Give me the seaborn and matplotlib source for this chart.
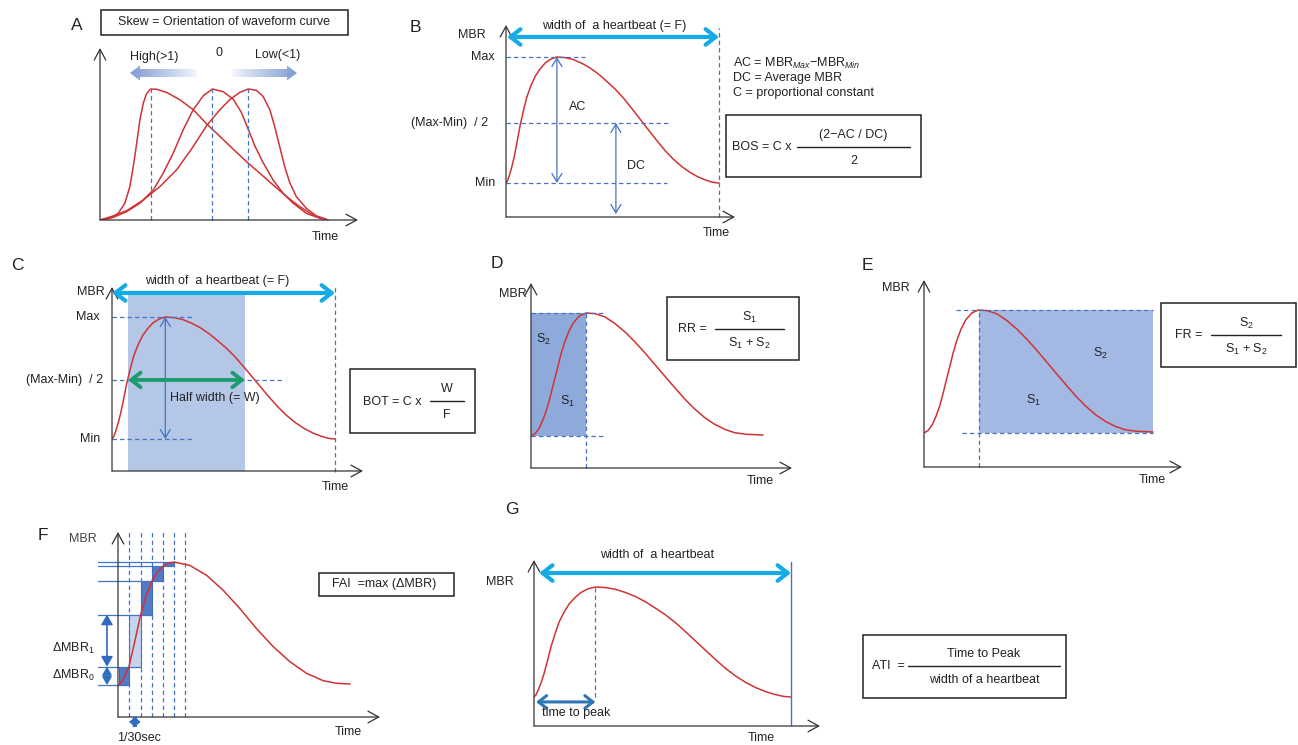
import numpy as np
import matplotlib
matplotlib.use("Agg")
import matplotlib.pyplot as plt
import seaborn as sns
from matplotlib.patches import Rectangle, Polygon
from matplotlib.colors import LinearSegmentedColormap

# ---------------------------------------------------------------------------
# data: waveforms, normalised
# time 0..1 = one heartbeat, MBR 0 = min, 1 = max
# ---------------------------------------------------------------------------
# panel A, three waveforms with different skew
skew_high_t = [0.0, 0.044, 0.080, 0.109, 0.131, 0.146, 0.161, 0.175, 0.190, 0.204,
               0.222, 0.248, 0.292, 0.350, 0.409, 0.467, 0.526, 0.584, 0.642, 0.701,
               0.759, 0.818, 0.876, 0.934, 1.0]
skew_high_v = [0.0, 0.013, 0.051, 0.128, 0.255, 0.408, 0.587, 0.765, 0.893, 0.964,
               1.0, 0.998, 0.974, 0.918, 0.842, 0.735, 0.638, 0.541, 0.446, 0.357,
               0.268, 0.179, 0.102, 0.038, 0.0]
skew_zero_t = [0.0, 0.058, 0.117, 0.175, 0.234, 0.277, 0.321, 0.365, 0.409, 0.453,
               0.493, 0.540, 0.584, 0.620, 0.650, 0.679, 0.715, 0.759, 0.803, 0.847,
               0.905, 0.964, 1.0]
skew_zero_v = [0.0, 0.020, 0.064, 0.128, 0.230, 0.357, 0.510, 0.689, 0.842, 0.949,
               1.0, 0.980, 0.923, 0.821, 0.694, 0.566, 0.439, 0.306, 0.204, 0.128,
               0.051, 0.013, 0.0]
skew_low_t = [0.0, 0.058, 0.117, 0.190, 0.263, 0.336, 0.409, 0.467, 0.526, 0.569,
              0.613, 0.650, 0.686, 0.715, 0.745, 0.766, 0.788, 0.810, 0.832, 0.861,
              0.905, 0.949, 1.0]
skew_low_v = [0.0, 0.031, 0.071, 0.153, 0.255, 0.383, 0.561, 0.719, 0.842, 0.918,
              0.974, 1.0, 0.990, 0.944, 0.842, 0.714, 0.561, 0.408, 0.286, 0.179,
              0.089, 0.031, 0.0]

# panels B, C, G: one heartbeat
beat_t = [0.0, 0.008, 0.017, 0.028, 0.039, 0.051, 0.067, 0.083, 0.098, 0.117,
          0.137, 0.161, 0.184, 0.211, 0.239, 0.278, 0.317, 0.356, 0.395, 0.434,
          0.473, 0.512, 0.551, 0.590, 0.629, 0.668, 0.707, 0.746, 0.785, 0.824,
          0.863, 0.902, 0.941, 0.972, 1.0]
beat_v = [0.0, 0.021, 0.066, 0.132, 0.212, 0.317, 0.463, 0.582, 0.683, 0.772,
          0.847, 0.907, 0.952, 0.984, 1.0, 0.995, 0.979, 0.950, 0.913, 0.865,
          0.807, 0.746, 0.675, 0.593, 0.508, 0.423, 0.339, 0.259, 0.190, 0.132,
          0.085, 0.048, 0.021, 0.005, 0.0]

# panels D, E: heartbeat with s-shaped rise
sig_t = [0.0, 0.019, 0.037, 0.054, 0.069, 0.083, 0.097, 0.112, 0.126, 0.143,
         0.162, 0.183, 0.209, 0.238, 0.276, 0.319, 0.362, 0.405, 0.448, 0.491,
         0.534, 0.577, 0.620, 0.663, 0.706, 0.749, 0.792, 0.835, 0.878, 0.928, 1.0]
sig_v = [0.0, 0.022, 0.070, 0.143, 0.224, 0.319, 0.427, 0.535, 0.643, 0.751,
         0.846, 0.922, 0.976, 1.0, 0.995, 0.968, 0.914, 0.846, 0.765, 0.676,
         0.581, 0.486, 0.392, 0.300, 0.219, 0.149, 0.095, 0.054, 0.027, 0.014, 0.008]

# panel F: steep heartbeat, video frames (1/30 s) and MBR sampled at each frame
fai_t = [0.0, 0.017, 0.043, 0.068, 0.094, 0.118, 0.142, 0.166, 0.191, 0.212,
         0.238, 0.306, 0.379, 0.451, 0.523, 0.595, 0.668, 0.740, 0.812, 0.884,
         0.942, 1.0]
fai_v = [0.0, 0.041, 0.149, 0.351, 0.573, 0.730, 0.843, 0.919, 0.965, 0.989,
         1.0, 0.973, 0.892, 0.770, 0.622, 0.459, 0.311, 0.189, 0.095, 0.035,
         0.014, 0.008]
frame_t = [0.0, 0.043, 0.094, 0.142, 0.191, 0.238, 0.286]
frame_v = [0.0, 0.149, 0.573, 0.843, 0.965, 1.0]

# ---------------------------------------------------------------------------
RED = "#cf3333"
BLUE = "#4472c4"
CYAN = "#12ade6"
GREEN = "#1e9b6e"
INK = "#222222"
DASH = (0, (3.5, 2.5))

W, H = 1298, 745
sns.set_theme(style="white")
plt.rcParams["font.family"] = ["Liberation Sans", "DejaVu Sans"]
plt.rcParams["mathtext.fontset"] = "custom"
plt.rcParams["mathtext.rm"] = "Liberation Sans"
plt.rcParams["mathtext.it"] = "Liberation Sans:italic"

fig = plt.figure(figsize=(W / 100, H / 100), dpi=100)
# overlay for text and boxes, kept above the panels
bg = fig.add_axes([0, 0, 1, 1])
bg.set_xlim(0, W)
bg.set_ylim(H, 0)
bg.set_autoscale_on(False)
bg.axis("off")
bg.set_zorder(5)

FS = 9


def txt(x, y, s, size=FS, ha="center", color=INK):
    bg.text(x, y, s, fontsize=size, ha=ha, va="center", color=color)


def box(x0, y0, x1, y1):
    bg.add_patch(Rectangle((x0, y0), x1 - x0, y1 - y0, fill=False, lw=1.1, ec=INK))


def frac(x0, x1, y, num, den):
    bg.plot([x0, x1], [y, y], color=INK, lw=1)
    txt((x0 + x1) / 2, y - 12, num)
    txt((x0 + x1) / 2, y + 14, den)


def panel(ox, oy, tipx, tipy, x0, x1, y0, y1):
    """axes whose frame runs from the origin to the arrow tips (pixels);
    curve time 0..1 spans x0..x1, MBR 0..1 spans rows y0..y1"""
    ax = fig.add_axes([ox / W, 1 - oy / H, (tipx - ox) / W, (oy - tipy) / H])
    ax.set_xlim((ox - x0) / (x1 - x0), (tipx - x0) / (x1 - x0))
    ax.set_ylim((y0 - oy) / (y0 - y1), (y0 - tipy) / (y0 - y1))
    ax.set_autoscale_on(False)
    ax.axis("off")
    for end in [(1, 0), (0, 1)]:
        ax.annotate("", xy=end, xytext=(0, 0), xycoords="axes fraction",
                    arrowprops=dict(arrowstyle="->,head_length=0.55,head_width=0.3",
                                    mutation_scale=14, lw=0.9, color="#333333",
                                    shrinkA=0, shrinkB=0))
    return ax


def curve(ax, t, v, lw=1.1):
    sns.lineplot(x=t, y=v, ax=ax, color=RED, lw=lw, sort=False, estimator=None,
                 legend=False)


def arrow(ax, p, q, color=BLUE, lw=0.9, style="<->,head_length=0.5,head_width=0.3", ms=12):
    ax.annotate("", xy=q, xytext=p, annotation_clip=False,
                arrowprops=dict(arrowstyle=style, color=color, lw=lw,
                                mutation_scale=ms, shrinkA=0, shrinkB=0))


def dash(ax, xs, ys, color=BLUE, lw=0.9):
    ax.plot(xs, ys, ls=DASH, color=color, lw=lw, clip_on=False)


def peak(t, v):
    return t[int(np.argmax(v))]


def grad_arrow(x_tail, x_head, y):
    d = np.sign(x_head - x_tail)
    hl, sh, hh = 10, 4, 7.5
    xs = x_head - d * hl
    pts = [(x_tail, y - sh), (xs, y - sh), (xs, y - hh), (x_head, y),
           (xs, y + hh), (xs, y + sh), (x_tail, y + sh)]
    poly = Polygon(pts, closed=True, fc="none", ec="none")
    bg.add_patch(poly)
    g = np.linspace(0, 1, 256).reshape(1, -1)
    if d < 0:
        g = g[:, ::-1]
    cmap = LinearSegmentedColormap.from_list("fade", ["#f2f5fb", "#7f9bd3"])
    im = bg.imshow(g, extent=[min(x_tail, x_head), max(x_tail, x_head), y + hh, y - hh],
                   cmap=cmap, aspect="auto", interpolation="bilinear")
    im.set_clip_path(poly)


CYAN_STYLE = "<->,head_length=0.45,head_width=0.35"

# ---------------------------------------------------------------- A
axA = panel(100, 220, 358, 48, 100, 328, 220, 89)
for t, v in [(skew_high_t, skew_high_v), (skew_zero_t, skew_zero_v), (skew_low_t, skew_low_v)]:
    curve(axA, t, v)
    tp = peak(t, v)
    dash(axA, [tp, tp], [0, 1])
txt(77, 25, "A", size=12.5)
box(101, 10, 348, 35)
txt(224, 22, "Skew = Orientation of waveform curve")
txt(154, 57, "High(>1)")
txt(219, 53, "0")
txt(278, 55, "Low(<1)")
grad_arrow(197, 130, 73)
grad_arrow(232, 297, 73)
txt(325, 237, "Time")

# ---------------------------------------------------------------- B
axB = panel(506, 217, 735, 25, 506, 719, 183, 57)
curve(axB, beat_t, beat_v)
tpB = peak(beat_t, beat_v)
dash(axB, [1, 1], [-0.27, 1.23])
dash(axB, [0, 0.371], [1, 1])
dash(axB, [0, 0.761], [0.476, 0.476])
dash(axB, [0, 0.756], [0, 0])
arrow(axB, (0.005, 1.159), (1.0, 1.159), color=CYAN, lw=3, style=CYAN_STYLE, ms=16)
arrow(axB, (tpB, 1), (tpB, 0))
arrow(axB, (0.516, 0.476), (0.516, -0.246))
txt(415, 28, "B", size=12.5)
txt(472, 35, "MBR")
txt(614, 26, "width of  a heartbeat (= F)")
txt(495, 57, "Max", ha="right")
txt(488, 123, "(Max-Min)  / 2", ha="right")
txt(495, 183, "Min", ha="right")
txt(578, 107, "AC")
txt(636, 166, "DC")
txt(716, 233, "Time")
txt(733, 63, r"AC = MBR$_{\mathit{Max}}$−MBR$_{\mathit{Min}}$", ha="left")
txt(733, 78, "DC = Average MBR", ha="left")
txt(733, 93, "C = proportional constant", ha="left")
box(726, 115, 921, 177)
txt(732, 147, "BOS = C x", ha="left")
frac(797, 910, 147, "(2−AC / DC)", "2")

# ---------------------------------------------------------------- C
axC = panel(112, 471, 363, 287, 112, 335, 439, 317)
axC.add_patch(Rectangle((0.072, -0.27), 0.596 - 0.072, 1.18 + 0.27, fc="#b4c7e7",
                        ec="none", zorder=0))
curve(axC, beat_t, beat_v)
tpC = peak(beat_t, beat_v)
dash(axC, [1, 1], [-0.27, 1.25])
dash(axC, [0, 0.359], [1, 1])
dash(axC, [0, 0.762], [0.484, 0.484])
dash(axC, [0, 0.363], [0, 0])
arrow(axC, (0.0, 1.197), (1.0, 1.197), color=CYAN, lw=3, style=CYAN_STYLE, ms=16)
arrow(axC, (tpC, 1), (tpC, 0))
arrow(axC, (0.072, 0.484), (0.596, 0.484), color=GREEN, lw=2.8, style=CYAN_STYLE, ms=15)
txt(17, 266, "C", size=12.5)
txt(217, 281, "width of  a heartbeat (= F)")
txt(105, 292, "MBR", ha="right")
txt(100, 317, "Max", ha="right")
txt(103, 380, "(Max-Min)  / 2", ha="right")
txt(100, 439, "Min", ha="right")
txt(215, 398, "Half width (= W)")
txt(335, 487, "Time")
box(350, 369, 475, 433)
txt(363, 402, "BOT = C x", ha="left")
frac(430, 464, 401, "W", "F")

# ---------------------------------------------------------------- D
axD = panel(531, 468, 792, 283, 531, 763, 436, 313)
tpD = peak(sig_t, sig_v)
axD.add_patch(Rectangle((0, 0), tpD, 1, fc="#8eaadb", ec="none", zorder=0))
curve(axD, sig_t, sig_v)
dash(axD, [0, 0.319], [1, 1])
dash(axD, [0, 0.319], [0, 0])
dash(axD, [tpD, tpD], [-0.26, 1])
txt(497, 263, "D", size=12.5)
txt(527, 294, "MBR", ha="right")
txt(543, 339, "S$_2$")
txt(567, 401, "S$_1$")
txt(760, 481, "Time")
box(667, 297, 799, 360)
txt(678, 329, "RR =", ha="left")
frac(715, 784, 329, "S$_1$", "S$_1$ + S$_2$")

# ---------------------------------------------------------------- E
axE = panel(924, 467, 1182, 280, 924, 1153, 433, 310)
tpE = peak(sig_t, sig_v)
axE.add_patch(Rectangle((tpE, 0), 1 - tpE, 1, fc="#a3b9e4", ec="none", zorder=0))
curve(axE, sig_t, sig_v)
dash(axE, [0.14, 1], [1, 1])
dash(axE, [0.166, 1], [0, 0])
dash(axE, [tpE, tpE], [-0.28, 1])
txt(867, 265, "E", size=12.5)
txt(896, 288, "MBR")
txt(1100, 353, "S$_2$")
txt(1033, 400, "S$_1$")
txt(1152, 480, "Time")
box(1161, 303, 1296, 367)
txt(1175, 335, "FR =", ha="left")
frac(1211, 1281, 335, "S$_2$", "S$_1$ + S$_2$")

# ---------------------------------------------------------------- F
axF = panel(118, 717, 380, 532, 119, 350, 685, 562)
for i in range(len(frame_v) - 1):
    fc = "#c7d4ef" if i == 1 else "#5479c6"
    axF.add_patch(Rectangle((frame_t[i], frame_v[i]), frame_t[i + 1] - frame_t[i],
                            frame_v[i + 1] - frame_v[i], fc=fc, ec="#2f55a4",
                            lw=0.6, zorder=0))
for i, v in enumerate(frame_v):
    axF.plot([-0.09, frame_t[min(i + 1, len(frame_v) - 1)]], [v, v], color=BLUE,
             lw=0.9, clip_on=False)
for t in frame_t[1:]:
    axF.axvline(t, 0, 1, ls=DASH, color=BLUE, lw=0.9)
curve(axF, fai_t, fai_v)
fstyle = "<|-|>,head_length=0.6,head_width=0.35"
arrow(axF, (-0.052, frame_v[1]), (-0.052, frame_v[2]), color="#2f6bc0", lw=1.2,
      style=fstyle, ms=10)
arrow(axF, (-0.052, frame_v[0]), (-0.052, frame_v[1]), color="#2f6bc0", lw=1.2,
      style=fstyle, ms=8)
arrow(axF, (frame_t[1], -0.30), (frame_t[2], -0.30), color="#2f6bc0", lw=1.2,
      style="<|-|>,head_length=0.7,head_width=0.55", ms=6)
txt(43, 535, "F", size=12.5)
txt(83, 539, "MBR", color="#444444")
txt(73, 648, "ΔMBR$_1$")
txt(73, 675, "ΔMBR$_0$")
txt(139, 738, "1/30sec")
txt(348, 732, "Time")
box(319, 573, 454, 596)
txt(384, 584, "FAI  =max (ΔMBR)")

# ---------------------------------------------------------------- G
axG = panel(534, 726, 820, 560, 534, 791, 697, 587)
curve(axG, beat_t, beat_v)
tpG = peak(beat_t, beat_v)
axG.axvline(1, 0, 0.99, color=BLUE, lw=1)
dash(axG, [tpG, tpG], [0, 1])
arrow(axG, (0.02, 1.127), (1.0, 1.127), color=CYAN, lw=3, style=CYAN_STYLE, ms=16)
arrow(axG, (0.008, -0.045), (tpG, -0.045), color="#2e75b6", lw=2.2,
      style=CYAN_STYLE, ms=13)
txt(512, 510, "G", size=12.5)
txt(500, 582, "MBR")
txt(657, 555, "width of  a heartbeat")
txt(576, 713, "time to peak")
txt(761, 738, "Time")
box(863, 635, 1066, 698)
txt(872, 666, "ATI  =", ha="left")
frac(908, 1060, 666, "Time to Peak", "width of a heartbeat")

fig.savefig("out.png", dpi=100)
